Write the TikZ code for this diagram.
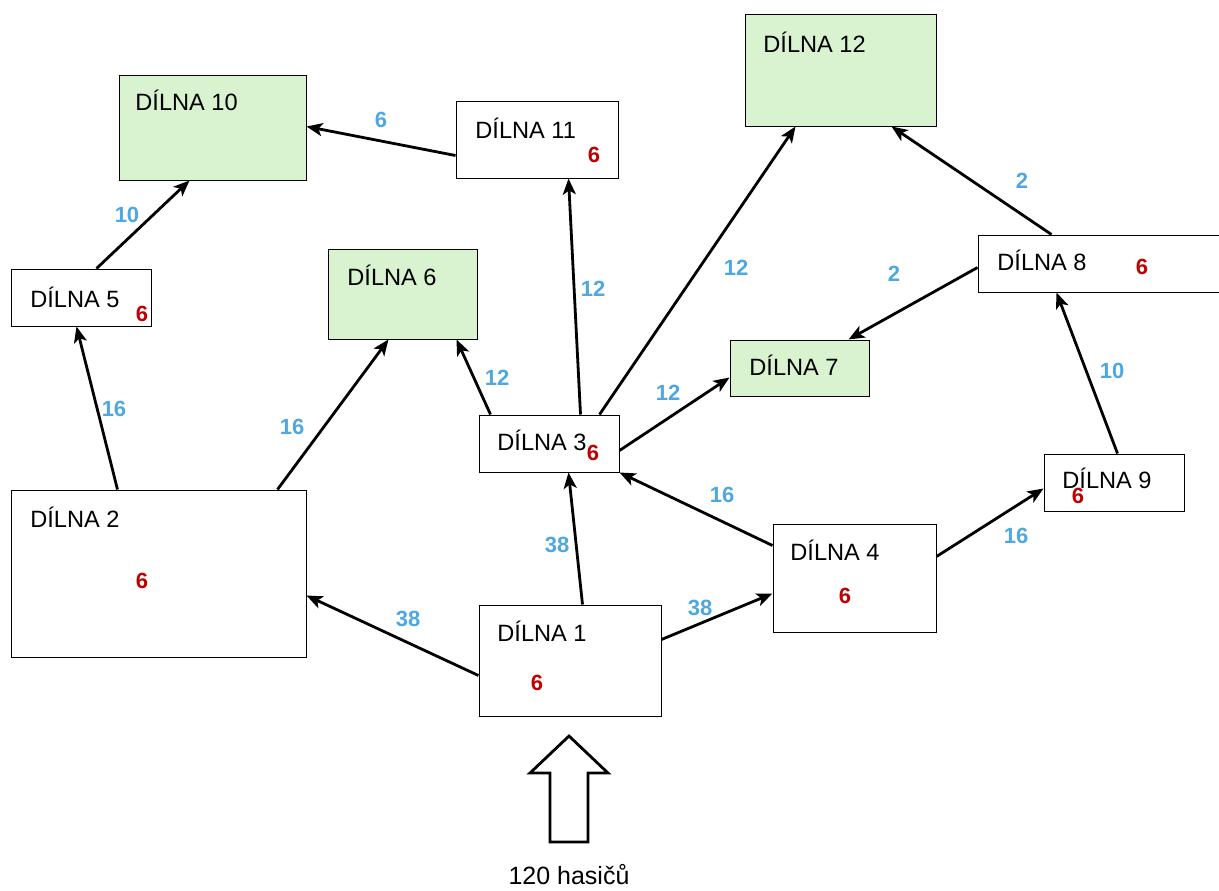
\documentclass[tikz,border=0pt]{standalone}
\usepackage{fontspec}
\setmainfont{Liberation Sans}
\usetikzlibrary{arrows.meta,fit}

\definecolor{zelena}{RGB}{217,242,208}
\definecolor{modra}{RGB}{78,167,224}
\definecolor{cervena}{RGB}{192,0,0}

\begin{document}
\begin{tikzpicture}[x=0.5pt, y=-0.5pt,
	dilna/.style={draw, line width=0.5pt, inner sep=0pt, fill=white},
	cil/.style={dilna, fill=zelena},
	nazev/.style={anchor=west, font=\fontsize{11.8}{13}\selectfont, inner sep=0pt},
	pocet/.style={text=cervena, font=\fontsize{11}{13}\selectfont\bfseries, inner sep=0pt},
	tok/.style={text=modra, font=\fontsize{11}{13}\selectfont\bfseries, inner sep=0pt},
	sipka/.style={-{Stealth[length=8pt,width=6.5pt,inset=2pt]}, line width=1.4pt}] %Styly
	\useasboundingbox (0,0) rectangle (1219,890); %Okraje
		%Dílny
	\node[cil, fit={(119,75) (306,180)}] (b10) {};
	\node[dilna, fit={(456,101) (618,178)}] (b11) {};
	\node[cil, fit={(745,14) (936,126)}] (b12) {};
	\node[dilna, fit={(11,269) (151,326)}] (b5) {};
	\node[cil, fit={(328,249) (477,339)}] (b6) {};
	\node[dilna, fit={(978,235) (1222,292)}] (b8) {};
	\node[cil, fit={(730,340) (869,396)}] (b7) {};
	\node[dilna, fit={(479,415) (619,472)}] (b3) {};
	\node[dilna, fit={(1044,454) (1184,511)}] (b9) {};
	\node[dilna, fit={(11,490) (306,657)}] (b2) {};
	\node[dilna, fit={(773,524) (936,632)}] (b4) {};
	\node[dilna, fit={(479,605) (661,716)}] (b1) {};
		%Názvy
	\node[nazev] (n10) at (135,100) {DÍLNA 10};
	\node[nazev] (n11) at (475,128) {DÍLNA 11};
	\node[nazev] (n12) at (763,42) {DÍLNA 12};
	\node[nazev] (n5) at (30,297) {DÍLNA 5};
	\node[nazev] (n6) at (347,275) {DÍLNA 6};
	\node[nazev] (n8) at (997,260) {DÍLNA 8};
	\node[nazev] (n7) at (749,365) {DÍLNA 7};
	\node[nazev] (n3) at (497,440) {DÍLNA 3};
	\node[nazev] (n9) at (1062,478) {DÍLNA 9};
	\node[nazev] (n2) at (30,517) {DÍLNA 2};
	\node[nazev] (n4) at (790,550) {DÍLNA 4};
	\node[nazev] (n1) at (497,631) {DÍLNA 1};
		%Hasiči v dílnách
	\node[pocet] (p11) at (594,155) {6};
	\node[pocet] (p5) at (142,314) {6};
	\node[pocet] (p8) at (1142,267) {6};
	\node[pocet] (p3) at (593,453) {6};
	\node[pocet] (p9) at (1078,496) {6};
	\node[pocet] (p2) at (142,581) {6};
	\node[pocet] (p4) at (845,596) {6};
	\node[pocet] (p1) at (537,683) {6};
		%Přesuny
	\draw[sipka] ([shift={(86,0)}]b5.north west) -- ([shift={(71,0)}]b10.south west);
	\draw[sipka] ([shift={(0,55)}]b11.north west) -- ([shift={(0,52)}]b10.north east);
	\draw[sipka] ([shift={(107,0)}]b2.north west) -- ([shift={(66,0)}]b5.south west);
	\draw[sipka] ([shift={(267,0)}]b2.north west) -- ([shift={(61,0)}]b6.south west);
	\draw[sipka] ([shift={(12,0)}]b3.north west) -- ([shift={(129,0)}]b6.south west);
	\draw[sipka] ([shift={(102,0)}]b3.north west) -- ([shift={(113,0)}]b11.south west);
	\draw[sipka] ([shift={(121,0)}]b3.north west) -- ([shift={(51,0)}]b12.south west);
	\draw[sipka] ([shift={(0,36)}]b3.north east) -- ([shift={(0,38)}]b7.north west);
	\draw[sipka] ([shift={(74,0)}]b8.north west) -- ([shift={(147,0)}]b12.south west);
	\draw[sipka] ([shift={(0,33)}]b8.north west) -- ([shift={(119,0)}]b7.north west);
	\draw[sipka] ([shift={(74,0)}]b9.north west) -- ([shift={(79,0)}]b8.south west);
	\draw[sipka] ([shift={(0,22)}]b4.north west) -- (b3.south east);
	\draw[sipka] ([shift={(0,33)}]b4.north east) -- ([shift={(0,35)}]b9.north west);
	\draw[sipka] ([shift={(104,0)}]b1.north west) -- ([shift={(90,0)}]b3.south west);
	\draw[sipka] ([shift={(0,71)}]b1.north west) -- ([shift={(0,106)}]b2.north east);
	\draw[sipka] ([shift={(0,35)}]b1.north east) -- ([shift={(0,70)}]b4.north west);
		%Počty hasičů na přesunech
	\node[tok] (t5) at (127,215) {10};
	\node[tok] (t11) at (381,120) {6};
	\node[tok] (t25) at (114,409) {16};
	\node[tok] (t26) at (292,427) {16};
	\node[tok] (t36) at (497,378) {12};
	\node[tok] (t311) at (593,289) {12};
	\node[tok] (t312) at (736,268) {12};
	\node[tok] (t37) at (668,393) {12};
	\node[tok] (t812) at (1022,181) {2};
	\node[tok] (t87) at (894,274) {2};
	\node[tok] (t98) at (1112,371) {10};
	\node[tok] (t43) at (722,495) {16};
	\node[tok] (t49) at (1016,536) {16};
	\node[tok] (t13) at (557,545) {38};
	\node[tok] (t12) at (408,619) {38};
	\node[tok] (t14) at (700,608) {38};
		%Příchod hasičů
	\draw[line width=1.4pt, fill=white] (569,736) -- (608,773) -- (588,773) -- (588,842) -- (550,842) -- (550,773) -- (530,773) -- cycle; %Velká šipka
	\node[font=\fontsize{12.5}{14}\selectfont, inner sep=0pt] (vstup) at (569,875) {120 hasičů};
\end{tikzpicture}
\end{document}
